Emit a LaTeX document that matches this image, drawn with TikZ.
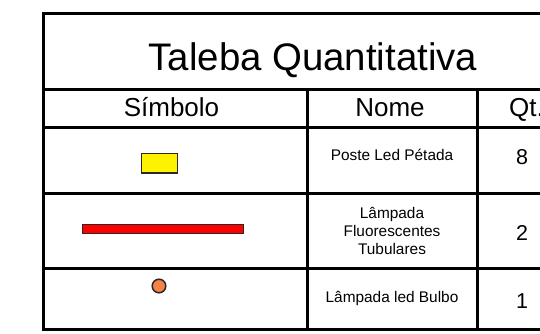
\documentclass[tikz,border=0pt]{standalone}
\usepackage{fontspec}
\setmainfont{Liberation Sans}
\definecolor{bulbo}{RGB}{245,130,70}
\definecolor{symline}{RGB}{40,40,40}
\begin{document}
\begin{tikzpicture}[x=1pt,y=-1pt,
  gridline/.style={line width=3pt,line cap=rect},
  symbox/.style={draw=symline,line width=1.5pt},
  titletxt/.style={font=\fontsize{38.4}{46}\selectfont,anchor=base},
  headtxt/.style={font=\fontsize{26}{31}\selectfont,anchor=base},
  nametxt/.style={font=\fontsize{15.4}{18}\selectfont,align=center},
  qtytxt/.style={font=\fontsize{21.5}{26}\selectfont,anchor=base}]
\useasboundingbox (0,0) rectangle (540,333);
\clip (0,0) rectangle (540,333);
% grid coordinates
\coordinate (TL) at (43,13);
\coordinate (BR) at (582,329);
\coordinate (r1l) at (43,89);  \coordinate (r1r) at (582,89);
\coordinate (r2l) at (43,127); \coordinate (r2r) at (582,127);
\coordinate (r3l) at (43,193); \coordinate (r3r) at (582,193);
\coordinate (r4l) at (43,268.5); \coordinate (r4r) at (582,268.5);
\coordinate (c1t) at (307,89); \coordinate (c1b) at (307,329);
\coordinate (c2t) at (477,89); \coordinate (c2b) at (477,329);
\draw[gridline] (TL) rectangle (BR);
\draw[gridline] (r1l) -- (r1r);
\draw[gridline] (r2l) -- (r2r);
\draw[gridline] (r3l) -- (r3r);
\draw[gridline] (r4l) -- (r4r);
\draw[gridline] (c1t) -- (c1b);
\draw[gridline] (c2t) -- (c2b);
% texts
\node[titletxt] (ttl) at (313,70.5) {Taleba Quantitativa};
\node[headtxt] (hsym) at (171.5,116.7) {Símbolo};
\node[headtxt] (hnome) at (390,116.7) {Nome};
\node[headtxt,anchor=base west,inner sep=0pt] (hqt) at (509,116.7) {Qt.};
\node[nametxt,anchor=base] (n1) at (392,160) {Poste Led Pétada};
\node[nametxt] (n2) at (392,230.5) {Lâmpada\\Fluorescentes\\Tubulares};
\node[nametxt,anchor=base] (n3) at (392,302) {Lâmpada led Bulbo};
\node[qtytxt] (q1) at (522,164) {8};
\node[qtytxt] (q2) at (522,240.5) {2};
\node[qtytxt] (q3) at (522,308) {1};
% symbols
\filldraw[symbox,fill=yellow] (141.5,153.5) rectangle (177.5,173);
\filldraw[symbox,fill=red] (82.5,224.5) rectangle (243.5,233.5);
\filldraw[symbox,fill=bulbo] (159,286) circle (6.8);
\end{tikzpicture}
\end{document}
